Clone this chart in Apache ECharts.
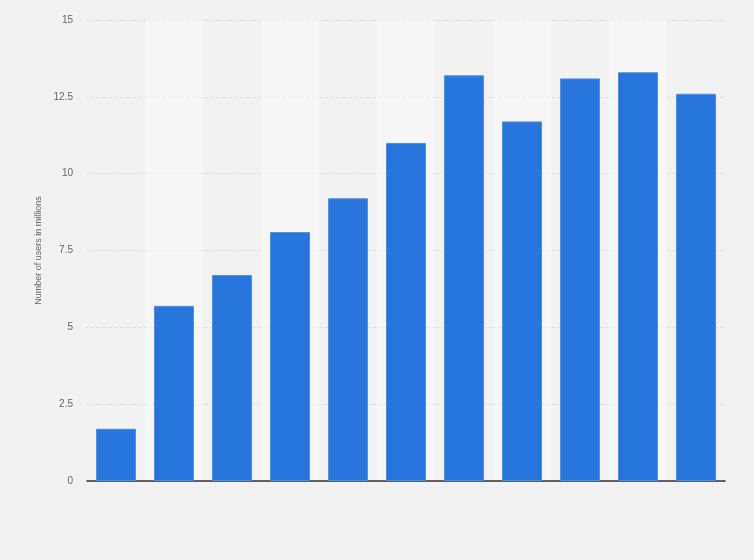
<!DOCTYPE html>
<html>
<head>
<meta charset="utf-8">
<script src="https://cdn.jsdelivr.net/npm/echarts@6/dist/echarts.min.js"></script>
<style>
  html, body { margin: 0; padding: 0; background: #f2f2f2; }
  #main { width: 754px; height: 560px; }
</style>
</head>
<body>
<div id="main"></div>
<script>
// categories have no visible labels in the source chart
let categories = ['1', '2', '3', '4', '5', '6', '7', '8', '9', '10', '11'];
let users = [1.7, 5.7, 6.7, 8.1, 9.2, 11, 13.2, 11.7, 13.1, 13.3, 12.6];
let yTicks = ['0', '2.5', '5', '7.5', '10', '12.5', '15'];

let myChart = echarts.init(document.getElementById('main'));

let option = {
    backgroundColor: '#f2f2f2',
    animation: false,
    grid: {
        left: 87,
        right: 29,
        top: 20,
        bottom: 79
    },
    xAxis: {
        type: 'category',
        data: categories,
        axisLine: {
            lineStyle: { color: '#333', width: 1.5 }
        },
        axisTick: { show: false },
        axisLabel: { show: false },
        splitArea: {
            show: true,
            areaStyle: { color: ['rgba(0,0,0,0)', 'rgba(255,255,255,0.4)'] }
        }
    },
    yAxis: {
        type: 'value',
        min: 0,
        max: 15,
        interval: 2.5,
        name: 'Number of users in millions',
        nameLocation: 'middle',
        nameGap: 43,
        nameTextStyle: { color: '#666', fontSize: 9, fontFamily: 'Arial, Liberation Sans' },
        axisLine: { show: false },
        axisTick: { show: false },
        axisLabel: {
            color: '#666',
            fontSize: 10,
            margin: 14,
            fontFamily: 'Arial, Liberation Sans',
            formatter: function (v) {
                let i = Math.round(v / 2.5);
                return yTicks[i];
            }
        },
        splitLine: {
            lineStyle: { color: '#ccc', type: [1, 2], width: 1 }
        }
    },
    series: [
        {
            name: 'Users',
            type: 'bar',
            data: users,
            barWidth: 40,
            itemStyle: {
                color: '#2876dd',
                borderColor: '#4d8fe4',
                borderWidth: 1
            }
        }
    ]
};

myChart.setOption(option);

window.onresize = function () {
    myChart.resize();
}
</script>
</body>
</html>
